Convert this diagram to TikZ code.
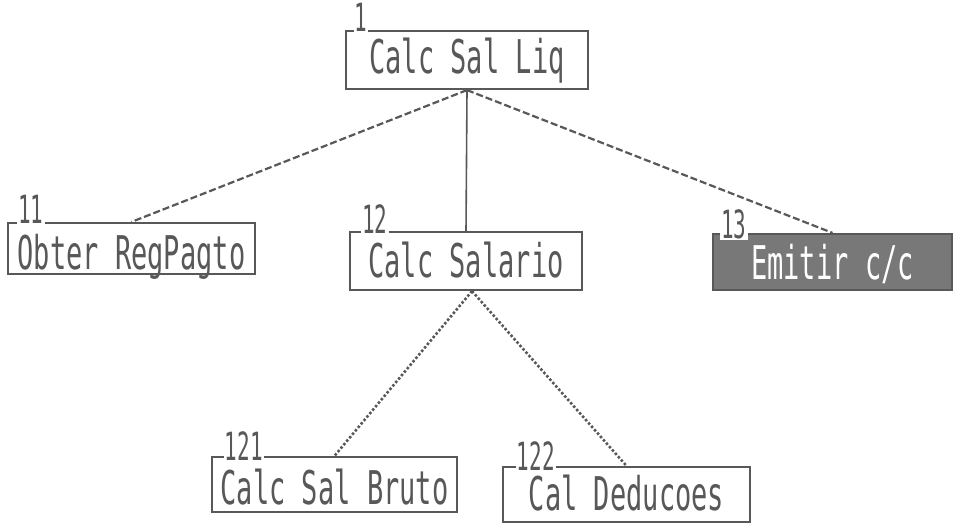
\documentclass[tikz,border=0pt]{standalone}
\usepackage{fontspec}
\usetikzlibrary{calc}
\newfontfamily\dmfont{DejaVu Sans Mono}
\definecolor{ink}{RGB}{88,88,88}
\definecolor{shade}{RGB}{120,120,120}
% tall, narrow dot-matrix style lettering; optional argument lowers the line
\newcommand{\dmtext}[2][0pt]{\raisebox{-#1}{\scalebox{1}[1.72]{\dmfont\fontsize{27}{30}\selectfont #2}}}
\newcommand{\dmnum}[1]{\scalebox{1}[1.85]{\dmfont\fontsize{21}{24}\selectfont #1}}
\tikzset{
  modbox/.style={draw=ink, line width=2.2pt, fill=white, text=ink, inner sep=0pt,
    text height=34pt, text depth=0pt},
  shadedbox/.style={modbox, fill=shade, text=white},
  modnum/.style={fill=white, text=ink, inner sep=1pt},
  callline/.style={draw=ink, line width=2.2pt, dash pattern=on 7pt off 3pt},
  callsolid/.style={draw=ink, line width=1.6pt},
  calldots/.style={draw=ink, line width=2.6pt, dash pattern=on 2.5pt off 2pt}
}
\begin{document}
\begin{tikzpicture}[x=1pt, y=-1pt]
\useasboundingbox (0,0) rectangle (957,529);

% module boxes
\node[modbox, minimum width=242pt, minimum height=58pt] (b1) at (467,60) {\dmtext[-3pt]{Calc Sal Liq}};
\node[modbox, minimum width=247pt, minimum height=51pt] (b11) at (131.5,248.5) {\dmtext[4pt]{Obter RegPagto}};
\node[modbox, minimum width=232pt, minimum height=58pt] (b12) at (466,261) {\dmtext[-1pt]{Calc Salario}};
\node[shadedbox, minimum width=239pt, minimum height=56pt] (b13) at (832.5,262) {\dmtext{Emitir c/c}};
\node[modbox, minimum width=245pt, minimum height=55pt] (b121) at (334.5,484.5) {\dmtext[3pt]{Calc Sal Bruto}};
\node[modbox, minimum width=247pt, minimum height=55pt] (b122) at (626.5,494.5) {\dmtext[-1pt]{Cal Deducoes}};

% calls between modules
\draw[callline] (b1.south) -- (b11.north);
\draw[callsolid] (b1.south) -- (b12.north);
\draw[callline] (b1.south) -- (b13.north);
\draw[calldots] ($(b12.south)+(6,0)$) -- (b121.north);
\draw[calldots] ($(b12.south)+(6,0)$) -- (b122.north);

% module numbers over the top-left corners
\node[modnum] (n1) at ($(b1.north west)+(16,-13)$) {\dmnum{1}};
\node[modnum] (n11) at ($(b11.north west)+(24,-13)$) {\dmnum{11}};
\node[modnum] (n12) at ($(b12.north west)+(26,-12)$) {\dmnum{12}};
\node[modnum] (n13) at ($(b13.north west)+(22,-9)$) {\dmnum{13}};
\node[modnum] (n121) at ($(b121.north west)+(33,-10)$) {\dmnum{121}};
\node[modnum] (n122) at ($(b122.north west)+(34,-10)$) {\dmnum{122}};
\end{tikzpicture}
\end{document}
